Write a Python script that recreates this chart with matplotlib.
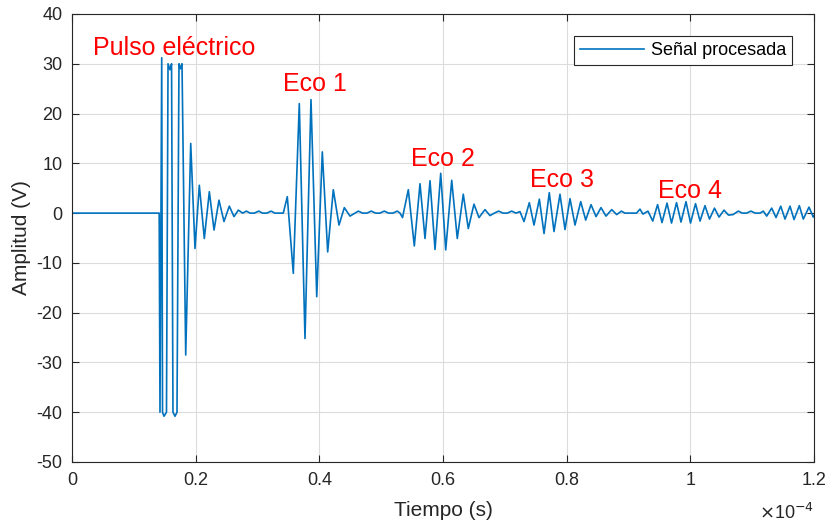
import numpy as np
import matplotlib
matplotlib.use("Agg")
import matplotlib.pyplot as plt
from matplotlib.ticker import FuncFormatter

# tiempo en microsegundos, amplitud en voltios
pulse_t = [0.0, 14.10, 14.23, 14.51, 14.64, 14.88, 15.28, 15.53, 15.85, 16.10,
           16.33, 16.66, 16.98, 17.30, 17.55, 17.79, 18.39, 19.20, 19.89, 20.59,
           21.40, 22.21, 22.97, 23.77, 24.58, 25.44, 26.20, 26.90]
pulse_v = [0.0, 0.0, -40.0, 31.2, -40.0, -40.8, -40.0, 30.0, 28.8, 30.0,
           -40.0, -40.8, -40.0, 30.0, 29.0, 30.0, -28.5, 14.0, -7.1, 5.6,
           -5.1, 4.3, -3.4, 2.6, -1.7, 1.4, -0.7, 0.6]

gap1_t = [27.6, 28.2, 28.8, 29.5, 30.2, 30.8, 31.5, 32.2, 32.8, 33.5]
gap1_v = [0.0, 0.4, 0.0, 0.0, 0.4, 0.0, 0.0, 0.4, 0.0, 0.0]

eco1_t = [34.17, 34.82, 35.79, 36.76, 37.68, 38.65, 39.58, 40.48, 41.35, 42.26,
          43.18, 44.04, 44.96, 46.30]
eco1_v = [0.0, 3.3, -12.1, 22.0, -25.2, 22.8, -16.8, 12.3, -7.8, 4.7,
          -2.4, 1.1, -0.6, 0.4]

gap2_t = [47.0, 47.7, 48.4, 49.1, 49.8, 50.5, 51.2, 51.9, 52.6, 53.05]
gap2_v = [0.0, 0.0, 0.4, 0.0, 0.0, 0.4, 0.0, 0.0, 0.4, 0.0]

eco2_t = [53.45, 54.39, 55.36, 56.28, 57.09, 57.90, 58.71, 59.63, 60.44, 61.41,
          62.31, 63.28, 64.09, 65.01, 65.82, 66.79, 67.60]
eco2_v = [-0.9, 4.7, -6.6, 5.9, -5.1, 6.5, -7.3, 8.0, -7.4, 6.6,
          -5.1, 3.8, -3.1, 1.8, -0.9, 0.7, -0.5]

gap3_t = [68.3, 69.0, 69.7, 70.4, 71.1, 71.8, 72.45]
gap3_v = [0.0, 0.4, 0.0, 0.0, 0.4, 0.0, 0.3]

eco3_t = [73.10, 73.96, 74.72, 75.58, 76.34, 77.19, 77.95, 78.92, 79.73, 80.54,
          81.35, 82.27, 83.08, 83.94, 84.75, 85.55, 86.36, 87.29, 88.09, 88.86]
eco3_v = [-1.7, 2.1, -2.4, 2.8, -4.1, 4.1, -3.7, 3.8, -3.3, 2.9,
          -2.4, 2.3, -1.4, 1.7, -0.7, 1.1, -0.6, 0.7, -0.3, 0.4]

gap4_t = [89.4, 90.0, 90.7, 91.3, 91.86, 92.34, 93.15]
gap4_v = [0.0, 0.0, 0.0, 0.0, 0.8, -0.2, 0.4]

eco4_t = [93.92, 94.70, 95.42, 96.23, 96.96, 97.77, 98.49, 99.30, 100.03, 100.84,
          101.57, 102.37, 103.10, 103.91, 104.64, 105.45, 106.17, 106.90, 107.76]
eco4_v = [-1.6, 1.7, -1.9, 2.0, -2.0, 2.1, -1.8, 2.3, -2.0, 1.9,
          -1.6, 1.5, -1.2, 1.0, -0.8, 0.6, -0.4, -0.3, 0.4]

tail_t = [108.4, 109.1, 109.8, 110.5, 111.27, 111.80, 112.35, 113.16, 113.86, 114.62,
          115.31, 116.12, 116.77, 117.63, 118.27, 119.19, 119.89, 120.0]
tail_v = [0.0, 0.0, 0.4, 0.0, 0.0, 0.4, -0.6, 1.0, -0.9, 1.4,
          -1.2, 1.4, -1.3, 1.5, -1.2, 1.2, -0.8, -0.5]

labels = ["Pulso eléctrico", "Eco 1", "Eco 2", "Eco 3", "Eco 4"]
label_t = [3.4, 34.1, 54.9, 74.0, 94.8]
label_v = [31.7, 24.6, 9.4, 5.3, 2.95]

t = np.concatenate([pulse_t, gap1_t, eco1_t, gap2_t, eco2_t, gap3_t,
                    eco3_t, gap4_t, eco4_t, tail_t]) * 1e-6
v = np.concatenate([pulse_v, gap1_v, eco1_v, gap2_v, eco2_v, gap3_v,
                    eco3_v, gap4_v, eco4_v, tail_v])

plt.rcParams['font.family'] = ['Liberation Sans', 'DejaVu Sans']
plt.rcParams['axes.unicode_minus'] = False
dark = '#262626'

fig = plt.figure(figsize=(8.28, 5.24), dpi=100)
ax = fig.add_axes([72/828, 1 - 462/524, 742/828, 448/524])

ax.plot(t, v, color='#0072BD', linewidth=1.2, label='Señal procesada')

for txt, x, y in zip(labels, label_t, label_v):
    ax.text(x * 1e-6, y, txt, color='red', fontsize=18, ha='left', va='baseline')

ax.set_xlim(0, 1.2e-4)
ax.set_ylim(-50, 40)
ax.set_xticks(np.arange(0, 1.21e-4, 0.2e-4))
ax.set_yticks(np.arange(-50, 41, 10))
ax.xaxis.set_major_formatter(FuncFormatter(lambda x, p: '%g' % round(x * 1e4, 3)))
ax.yaxis.set_major_formatter(FuncFormatter(lambda y, p: '%g' % y))

ax.text(1.0, -0.128, r'$\times$10$^{-4}$', transform=ax.transAxes,
        ha='right', va='baseline', fontsize=13, color=dark)

ax.grid(True, color='#dcdcdc', linewidth=0.8)
ax.set_axisbelow(True)
ax.tick_params(direction='in', top=True, right=True, labelsize=13,
               colors=dark, length=5, width=0.8, pad=7)
for s in ax.spines.values():
    s.set_color(dark)
    s.set_linewidth(0.8)

ax.set_xlabel('Tiempo (s)', fontsize=15, color=dark, labelpad=9)
ax.set_ylabel('Amplitud (V)', fontsize=15, color=dark, labelpad=4)

leg = ax.legend(loc='upper right', fontsize=13, fancybox=False, framealpha=1,
                edgecolor=dark, borderaxespad=1.2, handlelength=3.5,
                borderpad=0.35, handletextpad=0.4)
leg.get_frame().set_linewidth(0.8)

fig.savefig('out.png', dpi=100)
